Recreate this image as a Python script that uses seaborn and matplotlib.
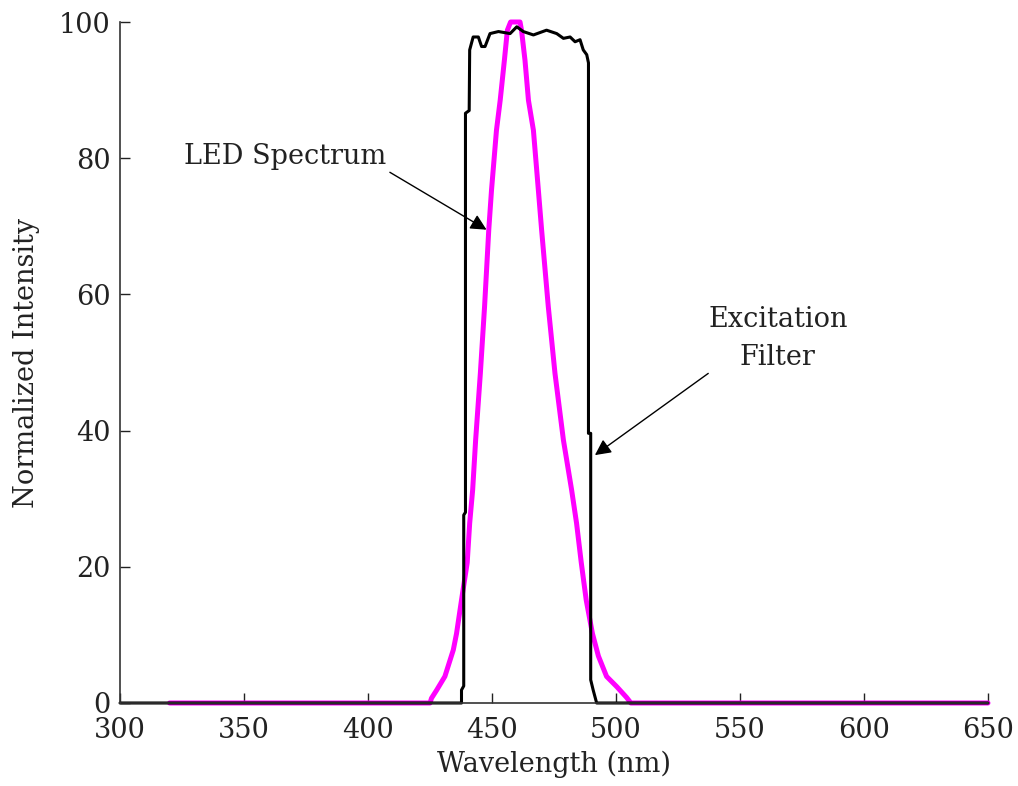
import matplotlib
matplotlib.use("Agg")
import matplotlib.pyplot as plt
import seaborn as sns
import pandas as pd

# Excitation filter transmission (black)
filter_nm = [300, 437.7, 437.7, 438.6, 438.6, 439.3, 439.3, 440.8, 441.0, 442.4,
             444.5, 445.8, 447.2, 449.2, 452.6, 457.3, 460.0, 462.6, 466.7, 472.0,
             476.1, 478.8, 481.5, 483.5, 485.5, 486.8, 488.2, 488.9, 488.9, 489.8,
             489.8, 490.8, 492.2, 650]
filter_val = [0, 0, 1.9, 2.5, 27.6, 28.0, 86.6, 87.0, 95.9, 97.8,
              97.8, 96.4, 96.4, 98.3, 98.6, 98.3, 99.3, 98.6, 98.1, 98.8,
              98.3, 97.6, 97.8, 97.1, 97.4, 95.9, 95.2, 94.0, 39.6, 39.6,
              3.4, 1.9, 0, 0]

# LED emission spectrum (magenta)
led_nm = [320, 425.0, 425.6, 427.7, 431.0, 434.4, 435.7, 437.7, 440.0, 441.0,
          442.2, 443.4, 445.3, 447.0, 448.7, 449.8, 451.8, 453.3, 455.0, 456.2,
          457.5, 459.5, 461.3, 461.9, 463.3, 464.7, 466.7, 468.7, 470.0, 472.7,
          475.4, 478.8, 482.1, 484.1, 486.0, 488.0, 490.5, 492.9, 496.2, 500.3,
          504.3, 506.0, 650]
led_val = [0, 0, 0.7, 1.9, 3.9, 7.8, 10.2, 15.1, 20.6, 26.4,
           31.3, 38.6, 48.4, 58.2, 69.5, 75.3, 84.1, 88.5, 94.4, 98.8,
           100, 100, 100, 98.8, 94.4, 88.5, 84.1, 75.3, 69.5, 58.2,
           48.4, 38.6, 31.3, 26.4, 20.6, 15.1, 10.2, 6.9, 3.9, 2.4,
           0.8, 0, 0]

x_ticks = [300, 350, 400, 450, 500, 550, 600, 650]
y_ticks = [0, 20, 40, 60, 80, 100]

df_filter = pd.DataFrame({"nm": filter_nm, "val": filter_val})
df_led = pd.DataFrame({"nm": led_nm, "val": led_val})

sns.set_style("ticks")
plt.rcParams["font.family"] = ["DejaVu Serif"]

fig = plt.figure(figsize=(10.18, 7.86), dpi=100)
ax = fig.add_axes([0.1179, 0.1056, 0.8526, 0.8664])

sns.lineplot(data=df_led, x="nm", y="val", ax=ax, color="#ff00ff", lw=3.6,
             sort=False, estimator=None, clip_on=False)
sns.lineplot(data=df_filter, x="nm", y="val", ax=ax, color="black", lw=2.2,
             sort=False, estimator=None, clip_on=False)

ax.set_xlim(300, 650)
ax.set_ylim(0, 100)
ax.set_xticks(x_ticks)
ax.set_yticks(y_ticks)
ax.tick_params(direction="in", length=7, width=1, labelsize=19.5,
               colors="#222222", labelcolor="#222222")
ax.tick_params(axis="x", pad=10)
ax.tick_params(axis="y", pad=7)
for side in ["top", "right"]:
    ax.spines[side].set_visible(False)
for side in ["left", "bottom"]:
    ax.spines[side].set_color("#333333")
    ax.spines[side].set_linewidth(1.2)

ax.set_xlabel("Wavelength (nm)", fontsize=19.5, color="#222222", labelpad=5)
ax.set_ylabel("Normalized Intensity", fontsize=19.5, color="#222222", labelpad=13)

arrow = dict(arrowstyle="-|>", color="black", lw=1, mutation_scale=24)
ax.annotate("LED Spectrum", xy=(447.8, 69.5), xytext=(407.5, 80.2),
            ha="right", va="center", fontsize=19.5, color="#222222",
            arrowprops=dict(arrow, shrinkA=0, shrinkB=0, relpos=(1, 0)))
ax.annotate("", xy=(491.5, 36.4), xytext=(537.2, 48.4),
            arrowprops=dict(arrow, shrinkA=0, shrinkB=0))
ax.text(565.3, 53.5, "Excitation\nFilter", ha="center", va="center",
        fontsize=19.5, color="#222222", linespacing=1.55)

fig.savefig("out.png", dpi=100)
